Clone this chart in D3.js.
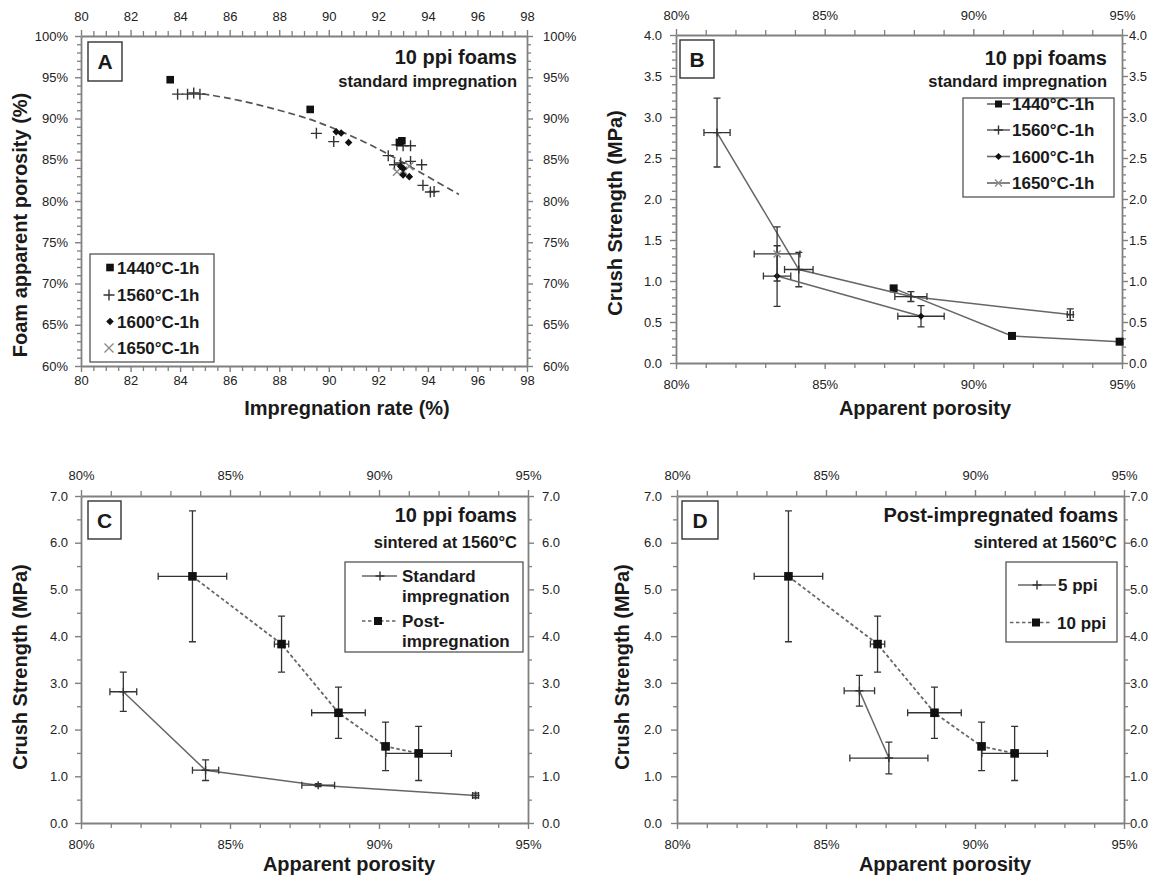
<!DOCTYPE html>
<html>
<head>
<meta charset="utf-8">
<script src="https://cdn.jsdelivr.net/npm/d3@7"></script>
<style>
  body { margin: 0; background: #fff; }
  svg { font-family: "Liberation Sans", Arial, sans-serif; }
</style>
</head>
<body>
<svg id="chart" width="1162" height="875"></svg>
<script>
// ---- panel A: impregnation rate (%) vs foam apparent porosity (%)
const aSquares  = [[83.6,94.7],[89.25,91.1],[92.95,87.3],[92.85,87.1]]
const aPlus     = [[83.9,92.95],[84.3,92.95],[84.55,93.1],[84.8,92.95],[89.5,88.2],[90.2,87.2],[92.4,85.5],
                   [92.75,86.8],[93.0,86.7],[93.3,86.7],[92.65,84.4],[92.9,84.6],[93.3,84.8],[93.75,84.4],
                   [93.8,81.9],[94.1,81.1],[94.25,81.15]]
const aDiamonds = [[90.3,88.4],[90.5,88.25],[90.8,87.1],[92.9,84.2],[93.0,83.95],[93.0,83.15],[93.25,82.95]]
const aTimes    = [[92.75,83.55],[93.0,83.7],[93.25,84.2]]
const aTrend    = [[84.9,93.0],[86.5,92.2],[88,91.0],[89.2,90.0],[90.3,88.7],[91.5,87.1],[92.4,85.7],[93.5,83.8],[95.25,80.8]]
const aXLabels  = [80,82,84,86,88,90,92,94,96,98]
const aYLabels  = [60,65,70,75,80,85,90,95,100]

// ---- panel B: [porosity %, strength MPa, x error, y error]
const b1440 = [[87.32,0.91,0,0],[91.3,0.33,0,0],[94.92,0.26,0,0]]
const b1560 = [[81.38,2.81,0.44,0.42],[84.13,1.14,0.48,0.21],[87.9,0.81,0.54,0.06],[93.26,0.59,0.1,0.07]]
const b1600 = [[83.4,1.06,0.46,0.37],[88.24,0.57,0.78,0.13]]
const b1650 = [[83.4,1.33,0.77,0.33]]
const bYLabels = [0,0.5,1,1.5,2,2.5,3,3.5,4]

// ---- panels C and D
const cStandard = [[81.42,2.81,0.45,0.42],[84.18,1.13,0.44,0.22],[87.96,0.81,0.55,0.03],[93.24,0.59,0.1,0.05]]
const cPost     = [[83.74,5.28,1.15,1.4],[86.73,3.83,0.24,0.6],[88.64,2.36,0.9,0.55],[90.22,1.64,0.1,0.52],[91.33,1.49,1.1,0.58]]
const d5ppi     = [[86.12,2.83,0.51,0.33],[87.11,1.39,1.31,0.34]]
const d10ppi    = cPost
const cdYLabels = [0,1,2,3,4,5,6,7]
const porLabels = [80,85,90,95]

const svg = d3.select('#chart')
const AXIS = '#808080', INK = '#1a1a1a'

function symPath(type, r){
  if(type==='square') return `M${-r},${-r}h${2*r}v${2*r}h${-2*r}Z`
  if(type==='diamond') return `M0,${-r}L${r},0L0,${r}L${-r},0Z`
  if(type==='plus') return `M${-r},0H${r}M0,${-r}V${r}`
  if(type==='times') return `M${-r},${-r}L${r},${r}M${-r},${r}L${r},${-r}`
}
function styleSym(sel, type){
  if(type==='square' || type==='diamond') sel.attr('fill', '#111').attr('stroke', 'none')
  else sel.attr('fill', 'none').attr('stroke', type==='times' ? '#8a8a8a' : '#333').attr('stroke-width', 1.4)
}

function drawAxis(g, orient, scale, pos, minor, major, fmt, sizes, pad){
  const make = { bottom: d3.axisBottom, top: d3.axisTop, left: d3.axisLeft, right: d3.axisRight }[orient]
  const tr = (orient==='bottom' || orient==='top') ? `translate(0,${pos})` : `translate(${pos},0)`
  if(minor.length){
    g.append('g').attr('transform', tr)
      .call(make(scale).tickValues(minor).tickFormat('').tickSize(sizes[0]).tickSizeOuter(0))
      .call(s => s.select('.domain').remove())
      .call(s => s.selectAll('line').attr('stroke', AXIS).attr('stroke-width', 1.3))
  }
  g.append('g').attr('transform', tr)
    .call(make(scale).tickValues(major).tickFormat(fmt).tickSize(sizes[1]).tickSizeOuter(0).tickPadding(pad))
    .call(s => s.select('.domain').attr('stroke', AXIS).attr('stroke-width', 1.8))
    .call(s => s.selectAll('line').attr('stroke', AXIS).attr('stroke-width', 1.4))
    .call(s => s.selectAll('text').attr('font-size', 13).attr('fill', '#222')
      .attr('font-family', '"Liberation Sans", Arial, sans-serif'))
}

function drawSeries(g, x, y, data, opts){
  if(opts.line){
    g.append('path').datum(data)
      .attr('d', d3.line().x(d => x(d[0])).y(d => y(d[1])))
      .attr('fill', 'none').attr('stroke', '#666').attr('stroke-width', opts.dash ? 1.8 : 1.5)
      .attr('stroke-dasharray', opts.dash || null)
  }
  const eb = g.append('g').attr('stroke', '#333').attr('stroke-width', 1.3).attr('fill', 'none')
  const cap = 3.5
  eb.selectAll('path.ex').data(data.filter(d => d[2] > 0)).join('path').attr('class', 'ex')
    .attr('d', d => {
      const x0 = x(d[0]-d[2]), x1 = x(d[0]+d[2]), yy = y(d[1])
      return `M${x0},${yy}H${x1}M${x0},${yy-cap}V${yy+cap}M${x1},${yy-cap}V${yy+cap}`
    })
  eb.selectAll('path.ey').data(data.filter(d => d[3] > 0)).join('path').attr('class', 'ey')
    .attr('d', d => {
      const y0 = y(d[1]-d[3]), y1 = y(d[1]+d[3]), xx = x(d[0])
      return `M${xx},${y0}V${y1}M${xx-cap},${y0}H${xx+cap}M${xx-cap},${y1}H${xx+cap}`
    })
  g.append('g').selectAll('path').data(data).join('path')
    .attr('transform', d => `translate(${x(d[0])},${y(d[1])})`)
    .attr('d', symPath(opts.sym, opts.r))
    .call(styleSym, opts.sym)
}

function panel(cfg){
  const g = svg.append('g')
  const x = d3.scaleLinear().domain(cfg.xDomain).range([cfg.left, cfg.right])
  const y = d3.scaleLinear().domain(cfg.yDomain).range([cfg.bottom, cfg.top])
  const ax = cfg.axes
  drawAxis(g, 'bottom', x, cfg.bottom, ax.xMinor, ax.xMajor, ax.xFmt, [5, 6], ax.padB)
  drawAxis(g, 'top', x, cfg.top, ax.xMinor, ax.xMajor, ax.xFmt, [5, 6], ax.padT)
  drawAxis(g, 'left', y, cfg.left, ax.yMinor, ax.yMajor, ax.yFmt, [4, 6], ax.padL)
  drawAxis(g, 'right', y, cfg.right, ax.yMinor, ax.yMajor, ax.yFmt, [4, 6], ax.padR)

  // panel letter box
  const b = cfg.box
  g.append('rect').attr('x', b[0]).attr('y', b[1]).attr('width', b[2]).attr('height', b[3])
    .attr('fill', '#fff').attr('stroke', '#333').attr('stroke-width', 1.4)
  g.append('text').attr('x', b[0]+b[2]/2).attr('y', b[1]+b[3]/2+7.5).attr('text-anchor', 'middle')
    .attr('font-size', 21).attr('font-weight', 'bold').attr('fill', INK).text(cfg.letter)

  // headings
  cfg.heads.forEach(h => g.append('text').attr('x', h.x).attr('y', h.y).attr('text-anchor', 'end')
    .attr('font-size', h.size).attr('font-weight', 'bold').attr('fill', INK).text(h.text))

  // axis titles
  g.append('text').attr('x', cfg.xTitle[0]).attr('y', cfg.xTitle[1]).attr('text-anchor', 'middle')
    .attr('font-size', 20).attr('font-weight', 'bold').attr('fill', INK).text(cfg.xTitle[2])
  g.append('text').attr('transform', `translate(${cfg.yTitle[0]},${cfg.yTitle[1]}) rotate(-90)`)
    .attr('text-anchor', 'middle').attr('dy', '0.35em')
    .attr('font-size', 20).attr('font-weight', 'bold').attr('fill', INK).text(cfg.yTitle[2])

  const plot = g.append('g')
  cfg.draw(plot, x, y)

  // legend
  const L = cfg.legend
  const lg = g.append('g')
  lg.append('rect').attr('x', L.box[0]).attr('y', L.box[1]).attr('width', L.box[2]).attr('height', L.box[3])
    .attr('fill', '#fff').attr('stroke', '#555').attr('stroke-width', 1.3)
  L.items.forEach(it => {
    if(it.line) lg.append('line').attr('x1', it.line[0]).attr('x2', it.line[1]).attr('y1', it.cy).attr('y2', it.cy)
      .attr('stroke', '#666').attr('stroke-width', 1.6).attr('stroke-dasharray', it.dash || null)
    lg.append('path').attr('transform', `translate(${it.mx},${it.cy})`).attr('d', symPath(it.sym, it.r))
      .call(styleSym, it.sym)
    it.text.forEach((t, i) => lg.append('text').attr('x', it.tx).attr('y', it.cy + 6 + i*19.5)
      .attr('font-size', 17).attr('font-weight', 'bold').attr('fill', INK).text(t))
  })
}

const pct = d => d + '%'
const dec = d3.format('.1f')
const porAxes = (padB, padT, padL, padR, yMinor, yMajor) => ({
  xMinor: d3.range(80, 95.01, 1).filter(v => v % 5), xMajor: porLabels, xFmt: pct,
  yMinor, yMajor, yFmt: dec, padB, padT, padL, padR
})

// ---- A
panel({
  left: 81, right: 527, top: 36, bottom: 366, xDomain: [80, 98], yDomain: [60, 100],
  axes: { xMinor: d3.range(80, 98.01, 0.5).filter(v => v % 2), xMajor: aXLabels, xFmt: d3.format('d'),
          yMinor: d3.range(60, 100.01, 1).filter(v => v % 5), yMajor: aYLabels, yFmt: pct,
          padB: 4, padT: 9, padL: 7, padR: 10 },
  box: [88, 42, 34, 39], letter: 'A',
  heads: [{ x: 517, y: 64, size: 20, text: '10 ppi foams' }, { x: 517, y: 87, size: 16.5, text: 'standard impregnation' }],
  xTitle: [347, 415, 'Impregnation rate (%)'], yTitle: [20, 225, 'Foam apparent porosity (%)'],
  draw: (g, x, y) => {
    g.append('path').datum(aTrend).attr('d', d3.line().curve(d3.curveBasis).x(d => x(d[0])).y(d => y(d[1])))
      .attr('fill', 'none').attr('stroke', '#555').attr('stroke-width', 1.7).attr('stroke-dasharray', '7,4')
    drawSeries(g, x, y, aPlus.map(d => [d[0], d[1], 0, 0]), { sym: 'plus', r: 5.5 })
    drawSeries(g, x, y, aTimes.map(d => [d[0], d[1], 0, 0]), { sym: 'times', r: 4 })
    drawSeries(g, x, y, aDiamonds.map(d => [d[0], d[1], 0, 0]), { sym: 'diamond', r: 3.8 })
    drawSeries(g, x, y, aSquares.map(d => [d[0], d[1], 0, 0]), { sym: 'square', r: 3.8 })
  },
  legend: { box: [90, 254, 124, 108], items: [
    { cy: 267.5, mx: 110, sym: 'square', r: 3.8, tx: 117, text: ['1440°C-1h'] },
    { cy: 295, mx: 109, sym: 'plus', r: 5.5, tx: 117, text: ['1560°C-1h'] },
    { cy: 321.5, mx: 110, sym: 'diamond', r: 3.8, tx: 117, text: ['1600°C-1h'] },
    { cy: 348, mx: 109, sym: 'times', r: 4.5, tx: 117, text: ['1650°C-1h'] }
  ] }
})

// ---- B
panel({
  left: 676, right: 1122, top: 35, bottom: 363, xDomain: [80, 95], yDomain: [0, 4],
  axes: porAxes(11, 9, 8, 1, d3.range(0, 4.01, 0.1).filter(v => Math.round(v*10) % 5), bYLabels),
  box: [680, 40, 34, 38], letter: 'B',
  heads: [{ x: 1107, y: 65, size: 20, text: '10 ppi foams' }, { x: 1107, y: 87, size: 16.5, text: 'standard impregnation' }],
  xTitle: [925, 415, 'Apparent porosity'], yTitle: [615, 213, 'Crush Strength (MPa)'],
  draw: (g, x, y) => {
    drawSeries(g, x, y, b1440, { line: true, sym: 'square', r: 4 })
    drawSeries(g, x, y, b1560, { line: true, sym: 'plus', r: 4 })
    drawSeries(g, x, y, b1600, { line: true, sym: 'diamond', r: 3.5 })
    drawSeries(g, x, y, b1650, { line: true, sym: 'times', r: 3.5 })
  },
  legend: { box: [963, 98, 151, 99], items: [
    { cy: 104, line: [987, 1010], mx: 998.5, sym: 'square', r: 3.5, tx: 1012, text: ['1440°C-1h'] },
    { cy: 130, line: [987, 1010], mx: 998.5, sym: 'plus', r: 4.5, tx: 1012, text: ['1560°C-1h'] },
    { cy: 156.5, line: [987, 1010], mx: 998.5, sym: 'diamond', r: 3.5, tx: 1012, text: ['1600°C-1h'] },
    { cy: 183, line: [987, 1010], mx: 998.5, sym: 'times', r: 3.5, tx: 1012, text: ['1650°C-1h'] }
  ] }
})

// ---- C
panel({
  left: 81, right: 528, top: 496, bottom: 823, xDomain: [80, 95], yDomain: [0, 7],
  axes: porAxes(11, 10, 7, 8, d3.range(0.5, 7, 1), cdYLabels),
  box: [88, 501, 33, 38], letter: 'C',
  heads: [{ x: 517, y: 522, size: 20, text: '10 ppi foams' }, { x: 517, y: 548, size: 16.5, text: 'sintered at 1560°C' }],
  xTitle: [349, 871, 'Apparent porosity'], yTitle: [20, 667, 'Crush Strength (MPa)'],
  draw: (g, x, y) => {
    drawSeries(g, x, y, cStandard, { line: true, sym: 'plus', r: 4 })
    drawSeries(g, x, y, cPost, { line: true, dash: '3.5,2.5', sym: 'square', r: 4.3 })
  },
  legend: { box: [345, 562, 178, 90], items: [
    { cy: 576, line: [362, 397], mx: 380, sym: 'plus', r: 4.5, tx: 402, text: ['Standard', 'impregnation'] },
    { cy: 621, line: [362, 397], dash: '3.5,2.5', mx: 378, sym: 'square', r: 4, tx: 402, text: ['Post-', 'impregnation'] }
  ] }
})

// ---- D
panel({
  left: 677, right: 1124, top: 496, bottom: 823, xDomain: [80, 95], yDomain: [0, 7],
  axes: porAxes(11, 10, 9, 0, d3.range(0.5, 7, 1), cdYLabels),
  box: [682, 501, 36, 38], letter: 'D',
  heads: [{ x: 1118, y: 522, size: 20, text: 'Post-impregnated foams' }, { x: 1117, y: 548, size: 16.5, text: 'sintered at 1560°C' }],
  xTitle: [945, 871, 'Apparent porosity'], yTitle: [622, 667, 'Crush Strength (MPa)'],
  draw: (g, x, y) => {
    drawSeries(g, x, y, d5ppi, { line: true, sym: 'plus', r: 4 })
    drawSeries(g, x, y, d10ppi, { line: true, dash: '3.5,2.5', sym: 'square', r: 4.3 })
  },
  legend: { box: [1006, 562, 111, 80], items: [
    { cy: 585, line: [1018, 1056], mx: 1037, sym: 'plus', r: 4.5, tx: 1058, text: ['5 ppi'] },
    { cy: 622.5, line: [1010, 1050], dash: '3.5,2.5', mx: 1036, sym: 'square', r: 4, tx: 1057, text: ['10 ppi'] }
  ] }
})
</script>
</body>
</html>
